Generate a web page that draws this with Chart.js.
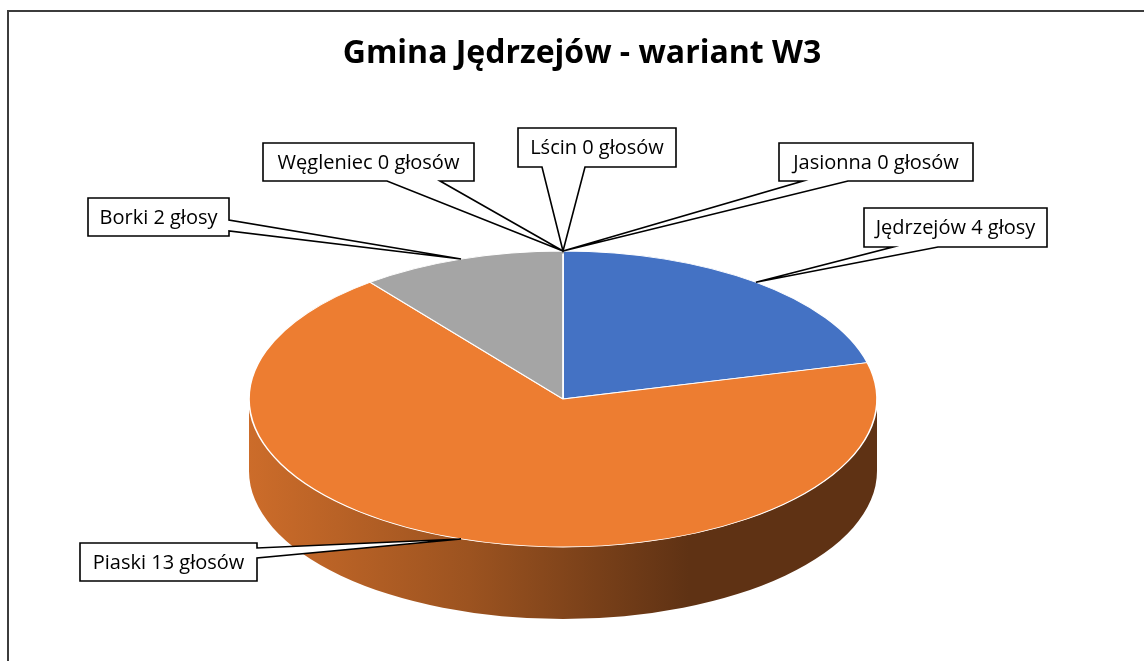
<!DOCTYPE html>
<html>
<head>
<meta charset="utf-8">
<script src="https://cdn.jsdelivr.net/npm/chart.js@4.4.1/dist/chart.umd.min.js"></script>
<style>
  html, body { margin: 0; padding: 0; background: #fff; }
  canvas { display: block; }
</style>
</head>
<body>
<canvas id="wykres" width="1144" height="661"></canvas>
<script>
// dane
const tytul        = "Gmina Jędrzejów - wariant W3"
const miejscowosci = ["Jędrzejów", "Piaski", "Borki", "Węgleniec", "Lścin", "Jasionna"]
const glosy        = [4, 13, 2, 0, 0, 0]
const kolory       = ["#4472C4", "#ED7D31", "#A5A5A5", "#FFC000", "#5B9BD5", "#70AD47"]

const odmiana = function (n) {
    const r10 = n % 10, r100 = n % 100
    return (r10 >= 2 && r10 <= 4 && !(r100 >= 12 && r100 <= 14)) ? "głosy" : "głosów"
}
const opisy = miejscowosci.map((m, i) => `${m} ${glosy[i]} ${odmiana(glosy[i])}`)

// wyglad: elipsa 3D i dymki z opisami
const elipsa = { x: 563, y: 399, rx: 314, ry: 148, glebokosc: 72 }
const dymki = [
    { x: 864, y: 208, w: 183, h: 39, strona: "dol",   b: [893, 938] },
    { x: 80,  y: 543, w: 177, h: 38, strona: "prawo", b: [548, 558] },
    { x: 88,  y: 198, w: 141, h: 38, strona: "prawo", b: [220, 231] },
    { x: 263, y: 143, w: 211, h: 38, strona: "dol",   b: [387, 440] },
    { x: 518, y: 128, w: 158, h: 39, strona: "dol",   b: [542, 585] },
    { x: 779, y: 143, w: 194, h: 38, strona: "dol",   b: [803, 848] }
]

const przyciemnij = function (hex, f) {
    const n = parseInt(hex.slice(1), 16)
    const r = Math.round(((n >> 16) & 255) * f), g = Math.round(((n >> 8) & 255) * f), b = Math.round((n & 255) * f)
    return `rgb(${r},${g},${b})`
}

const ramka = {
    id: "ramka",
    beforeDraw(chart) {
        const ctx = chart.ctx
        ctx.save()
        ctx.strokeStyle = "#3c3c3c"
        ctx.lineWidth = 2
        ctx.strokeRect(8, 11, 1200, 700)
        ctx.restore()
    }
}

const tort3d = {
    id: "tort3d",
    beforeDatasetsDraw(chart) {
        const ctx  = chart.ctx
        const luki = chart.getDatasetMeta(0).data
        const E    = elipsa
        // boki tortu (tylko dolna, widoczna polowa)
        luki.forEach((luk, i) => {
            const a0 = Math.max(luk.startAngle, 0)
            const a1 = Math.min(luk.endAngle, Math.PI)
            if (a1 <= a0) return
            const kolor = kolory[i]
            const grad = ctx.createLinearGradient(E.x - E.rx, 0, E.x + E.rx, 0)
            grad.addColorStop(0, przyciemnij(kolor, 0.86))
            grad.addColorStop(0.35, przyciemnij(kolor, 0.66))
            grad.addColorStop(0.7, przyciemnij(kolor, 0.4))
            grad.addColorStop(1, przyciemnij(kolor, 0.4))
            ctx.save()
            ctx.beginPath()
            ctx.ellipse(E.x, E.y, E.rx, E.ry, 0, a0, a1)
            ctx.lineTo(E.x + E.rx * Math.cos(a1), E.y + E.ry * Math.sin(a1) + E.glebokosc)
            ctx.ellipse(E.x, E.y + E.glebokosc, E.rx, E.ry, 0, a1, a0, true)
            ctx.closePath()
            ctx.fillStyle = grad
            ctx.fill()
            ctx.restore()
        })
        // wierzch tortu: splaszczenie kola w elipse
        const l = luki[0]
        ctx.save()
        ctx.translate(E.x, E.y)
        ctx.scale(E.rx / l.outerRadius, E.ry / l.outerRadius)
        ctx.translate(-l.x, -l.y)
    },
    afterDatasetsDraw(chart) {
        chart.ctx.restore()
    },
    afterDraw(chart) {
        const ctx  = chart.ctx
        const luki = chart.getDatasetMeta(0).data
        const E    = elipsa
        ctx.save()
        ctx.font = "20px 'Open Sans'"
        ctx.textAlign = "center"
        ctx.textBaseline = "middle"
        luki.forEach((luk, i) => {
            const d = dymki[i]
            const a = (luk.startAngle + luk.endAngle) / 2
            const px = E.x + E.rx * Math.cos(a)
            const py = E.y + E.ry * Math.sin(a)
            ctx.beginPath()
            ctx.moveTo(d.x, d.y)
            ctx.lineTo(d.x + d.w, d.y)
            if (d.strona === "prawo") {
                ctx.lineTo(d.x + d.w, d.b[0])
                ctx.lineTo(px, py)
                ctx.lineTo(d.x + d.w, d.b[1])
                ctx.lineTo(d.x + d.w, d.y + d.h)
                ctx.lineTo(d.x, d.y + d.h)
            } else {
                ctx.lineTo(d.x + d.w, d.y + d.h)
                ctx.lineTo(d.b[1], d.y + d.h)
                ctx.lineTo(px, py)
                ctx.lineTo(d.b[0], d.y + d.h)
                ctx.lineTo(d.x, d.y + d.h)
            }
            ctx.closePath()
            ctx.fillStyle = "#fff"
            ctx.fill()
            ctx.lineWidth = 1.6
            ctx.strokeStyle = "#000"
            ctx.lineJoin = "miter"
            ctx.stroke()
            ctx.fillStyle = "#000"
            ctx.fillText(opisy[i], d.x + d.w / 2, d.y + d.h / 2 + 1)
        })
        ctx.restore()
    }
}

new Chart(document.getElementById("wykres"), {
    type: "pie",
    data: {
        labels: miejscowosci,
        datasets: [{
            data: glosy,
            backgroundColor: kolory,
            borderColor: "#ffffff",
            borderWidth: 1.5,
            clip: false
        }]
    },
    options: {
        responsive: false,
        animation: false,
        layout: { padding: { left: 20, top: 0, right: 0, bottom: 20 } },
        plugins: {
            legend: { display: false },
            tooltip: { enabled: false },
            title: {
                display: true,
                text: tytul,
                color: "#000",
                font: { family: "'Open Sans'", size: 32, weight: "bold" },
                padding: { top: 35, bottom: 10 }
            }
        }
    },
    plugins: [ramka, tort3d]
})
</script>
</body>
</html>
